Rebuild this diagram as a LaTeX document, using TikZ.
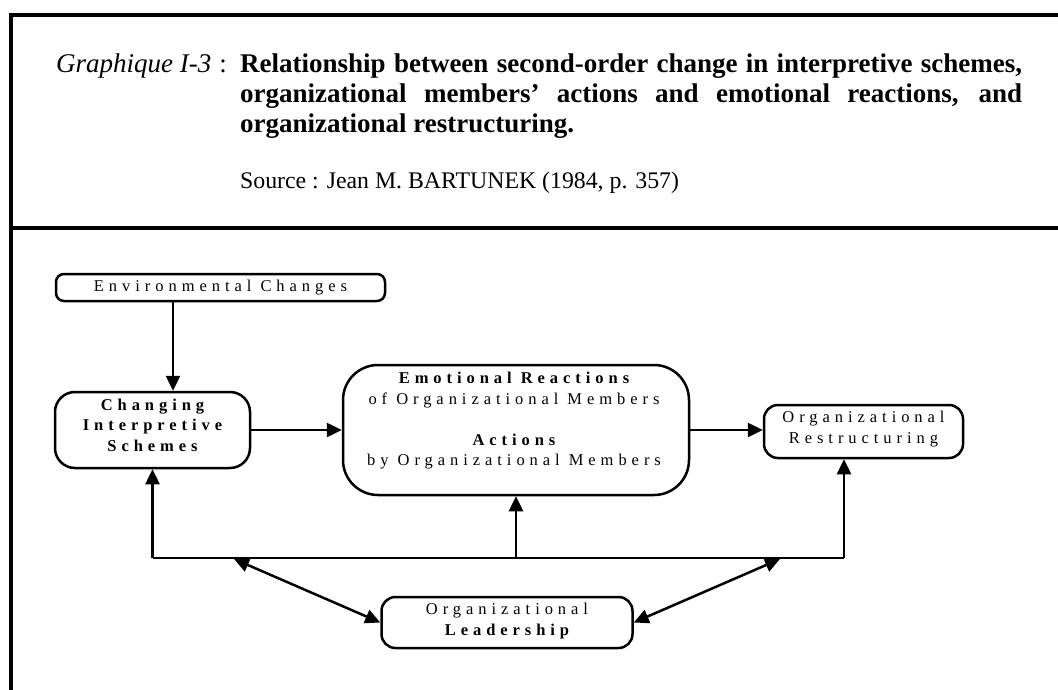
\documentclass[tikz,border=0pt]{standalone}
\usepackage{fontspec}
\setmainfont{Liberation Serif}
\newfontfamily\dfont[LetterSpace=30]{Liberation Serif}
\usetikzlibrary{arrows.meta}
\tikzset{
  frame/.style={line width=3.5pt, line cap=rect},
  box/.style={draw, line width=2.5pt, rounded corners=#1, inner sep=0pt},
  btext/.style={font=\dfont\fontsize{16.5}{20.5}\selectfont, align=center, inner sep=0pt},
  head/.style={anchor=base west, inner sep=0pt, font=\fontsize{27}{31}\selectfont},
  srchead/.style={anchor=base west, inner sep=0pt, font=\fontsize{23.8}{30}\selectfont},
  conn/.style={line width=2.5pt},
  arr/.style={line width=2.5pt, -{Triangle[length=15pt,width=14pt]}},
  darr/.style={line width=2.5pt, {Triangle[length=15pt,width=14pt]}-{Triangle[length=15pt,width=14pt]}}
}
\begin{document}
\begin{tikzpicture}[x=1pt,y=-1pt]
\useasboundingbox (0,0) rectangle (1058,690);
% frame
\coordinate (fTL) at (11,15);
\coordinate (fTR) at (1060,15);
\coordinate (fBL) at (11,692);
\coordinate (sL) at (11,228);
\coordinate (sR) at (1060,228);
\draw[frame] (fTR) -- (fTL) -- (fBL);
\draw[frame] (sL) -- (sR);
% header
\node[head] (gi) at (56,73) {\textit{Graphique I-3}\hspace{8pt}:};
\node[head] (t1) at (240,73) {\bfseries\makebox[782pt][s]{Relationship between second-order change in interpretive schemes,}};
\node[head] (t2) at (240,103) {\bfseries\makebox[782pt][s]{organizational members’ actions and emotional reactions, and}};
\node[head] (t3) at (240,133) {\bfseries organizational restructuring.};
\node[srchead] (src) at (240,189) {Source : Jean M. BARTUNEK (1984, p. 357)};
% boxes
\node[box=8pt, minimum width=329pt, minimum height=27pt] (env) at (220.5,287.5) {};
\node[btext] (envT) at (220.5,288) {Environmental Changes};
\node[box=20pt, minimum width=195pt, minimum height=76pt] (chg) at (152.5,430) {};
\node[btext] (chgT) at (152.5,425) {\bfseries Changing\\\bfseries Interpretive\\\bfseries Schemes};
\node[box=35pt, minimum width=346pt, minimum height=130pt] (emo) at (516,430) {};
\node[btext] (emoT) at (514,421) {\bfseries Emotional Reactions\\of Organizational Members\\[20.5pt]\bfseries Actions\\by Organizational Members};
\node[box=14pt, minimum width=199pt, minimum height=53pt] (res) at (863.5,431.5) {};
\node[btext] (resT) at (863.5,429) {Organizational\\Restructuring};
\node[box=14pt, minimum width=251pt, minimum height=51pt] (lead) at (507,622.5) {};
\node[btext] (leadT) at (507,621) {Organizational\\\bfseries Leadership};
% connectors
\coordinate (envx) at (173,0);
\coordinate (busL) at (152.5,558);
\coordinate (busM) at (516,558);
\coordinate (busR) at (844,558);
\coordinate (dl) at (234,559);
\coordinate (dr) at (780,559);
\draw[arr] (env.south -| envx) -- (chg.north -| envx);
\draw[arr] (chg.east) -- (emo.west);
\draw[arr] (emo.east) -- (emo.east -| res.west);
\draw[conn, line join=miter] (chg.south |- busL) -- (busR);
\draw[arr] (busL) -- (chg.south);
\draw[arr] (busM) -- (emo.south);
\draw[arr] (busR) -- (res.south -| busR);
\draw[darr] (dl) -- (lead.west);
\draw[darr] (dr) -- (lead.east);
\end{tikzpicture}
\end{document}
